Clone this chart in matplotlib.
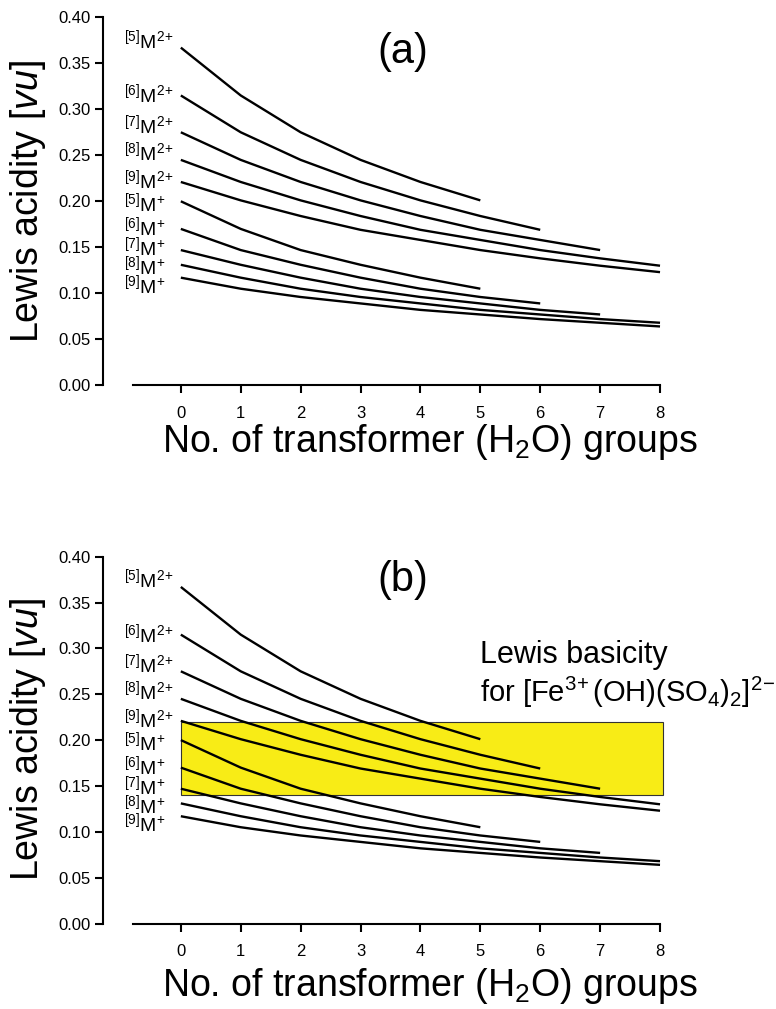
import matplotlib
matplotlib.use('Agg')
from matplotlib import pyplot as plt
from matplotlib.patches import Rectangle
from matplotlib.ticker import FormatStrFormatter

plt.rcParams['font.family'] = ['Liberation Sans', 'DejaVu Sans']
plt.rcParams['mathtext.fontset'] = 'custom'
plt.rcParams['mathtext.rm'] = 'Liberation Sans'
plt.rcParams['mathtext.it'] = 'Liberation Sans:italic'

# Lewis acidity (vu) vs. number of H2O transformer groups
labels = [r'$^{[5]}$M$^{2\!+}$', r'$^{[6]}$M$^{2\!+}$', r'$^{[7]}$M$^{2\!+}$',
          r'$^{[8]}$M$^{2\!+}$', r'$^{[9]}$M$^{2\!+}$',
          r'$^{[5]}$M$^{+}$', r'$^{[6]}$M$^{+}$', r'$^{[7]}$M$^{+}$',
          r'$^{[8]}$M$^{+}$', r'$^{[9]}$M$^{+}$']

m2_5 = [0.367, 0.315, 0.275, 0.245, 0.221, 0.201]
m2_6 = [0.315, 0.275, 0.245, 0.221, 0.201, 0.184, 0.169]
m2_7 = [0.275, 0.245, 0.221, 0.201, 0.184, 0.169, 0.158, 0.147]
m2_8 = [0.245, 0.221, 0.201, 0.184, 0.169, 0.158, 0.147, 0.138, 0.130]
m2_9 = [0.221, 0.201, 0.184, 0.169, 0.158, 0.147, 0.138, 0.130, 0.123]
m1_5 = [0.200, 0.170, 0.147, 0.131, 0.117, 0.105]
m1_6 = [0.170, 0.147, 0.131, 0.117, 0.105, 0.096, 0.089]
m1_7 = [0.147, 0.131, 0.117, 0.105, 0.096, 0.089, 0.082, 0.077]
m1_8 = [0.131, 0.117, 0.105, 0.096, 0.089, 0.082, 0.077, 0.072, 0.068]
m1_9 = [0.117, 0.105, 0.096, 0.089, 0.082, 0.077, 0.072, 0.068, 0.064]
series = [m2_5, m2_6, m2_7, m2_8, m2_9, m1_5, m1_6, m1_7, m1_8, m1_9]

# y position of each curve label
label_y = [0.375, 0.316, 0.283, 0.253, 0.223, 0.198, 0.172, 0.150, 0.129, 0.109]

# Lewis basicity range of [Fe3+(OH)(SO4)2]2-
basicity_lo = 0.14
basicity_hi = 0.22

fig = plt.figure(figsize=(7.76, 10.09), dpi=100)
ax1 = fig.add_axes([0.1327, 0.6181, 0.741, 0.3648])
ax2 = fig.add_axes([0.1327, 0.0847, 0.741, 0.3636])


def draw_panel(ax, tag, tag_y):
    for vals in series:
        ax.plot(range(len(vals)), vals, color='k', lw=1.7, zorder=3,
                solid_capstyle='butt')
    for lab, ly in zip(labels, label_y):
        ax.text(-0.95, ly, lab, ha='left', va='center', fontsize=14)
    ax.set_xlim(-1.3, 8.3)
    ax.set_ylim(0, 0.4)
    ax.set_xticks(range(9))
    ax.set_yticks([0, 0.05, 0.10, 0.15, 0.20, 0.25, 0.30, 0.35, 0.40])
    ax.yaxis.set_major_formatter(FormatStrFormatter('%.2f'))
    ax.spines['top'].set_visible(False)
    ax.spines['right'].set_visible(False)
    ax.spines['bottom'].set_bounds(-0.8, 8)
    for s in ('left', 'bottom'):
        ax.spines[s].set_linewidth(1.5)
    ax.tick_params(axis='x', direction='out', length=6, width=1.5, pad=9,
                   labelsize=12)
    ax.tick_params(axis='y', direction='out', length=6, width=1.5, pad=3,
                   labelsize=12)
    ax.set_ylabel(r'Lewis acidity [$\mathit{vu}$]', fontsize=27)
    ax.set_xlabel(r'No. of transformer (H$_2$O) groups', fontsize=27)
    ax.yaxis.set_label_coords(-0.095, 0.5)
    ax.text(3.7, tag_y, tag, ha='center', va='center', fontsize=30)


draw_panel(ax1, '(a)', 0.362)
ax1.xaxis.set_label_coords(0.569, -0.1)

draw_panel(ax2, '(b)', 0.375)
ax2.xaxis.set_label_coords(0.569, -0.115)
ax2.add_patch(Rectangle((0, basicity_lo), 8.05, basicity_hi - basicity_lo,
                        facecolor='#f8ec16', edgecolor='#333333', lw=0.8,
                        zorder=2))
ax2.text(4.99, 0.293, 'Lewis basicity', ha='left', va='center', fontsize=22,
         clip_on=False)
ax2.text(4.99, 0.252, r'for [Fe$^{3\!+}$(OH)(SO$_4$)$_2$]$^{2\!-}$', ha='left',
         va='center', fontsize=21, clip_on=False)

fig.savefig('out.png', dpi=100)
